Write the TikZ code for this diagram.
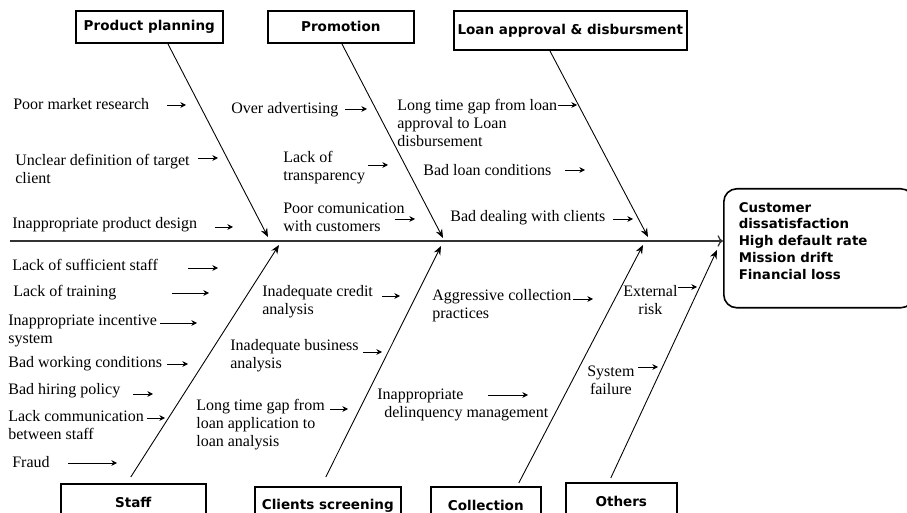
\documentclass[tikz,border=0pt]{standalone}
\usepackage{fontspec}
\setmainfont{Liberation Serif}
\newfontfamily\boxfont{DejaVu Sans}
\usepackage{tikz}
\usetikzlibrary{arrows.meta, calc}

\begin{document}
\begin{tikzpicture}[
  x=0.02cm, y=-0.02cm,
  every node/.style={inner sep=0pt},
  cause/.style={font=\fontsize{9.1}{10.2}\selectfont, align=left, anchor=west},
  catbox/.style={draw=black, line width=0.9pt, font=\boxfont\bfseries\fontsize{7.7}{9.6}\selectfont, anchor=north west, align=center},
  effect/.style={draw=black, line width=0.9pt, rounded corners=0.26cm, font=\boxfont\bfseries\fontsize{7.6}{9.6}\selectfont, anchor=north west, align=left, text width=3.2cm, inner xsep=0.3cm, minimum height=2.38cm},
  bone/.style={-{Stealth[length=5pt, width=4pt]}, line width=0.5pt},
  causearrow/.style={-{Stealth[length=3.2pt, width=3.2pt]}, line width=0.5pt},
  spine/.style={->, line width=0.7pt, black!80}
]
\clip (0,0) rectangle (907,513);

% Effect and spine
\node[effect] (eff) at (723,188) {Customer\\ dissatisfaction\\ High default rate\\ Mission drift\\ Financial loss\\[-4pt] \strut};
\coordinate (tail) at (10,241);
\draw[spine] (tail) -- (tail -| eff.west);

% Category boxes
\node[catbox, minimum width=2.94cm, minimum height=0.64cm] (plan) at (75,10) {Product planning};
\node[catbox, minimum width=2.92cm, minimum height=0.64cm] (promo) at (267,10) {Promotion};
\node[catbox, minimum width=4.66cm, minimum height=0.78cm] (loan) at (453,10) {Loan approval \& disbursment};
\node[catbox, minimum width=2.9cm, minimum height=0.76cm] (staff) at (60,483) {Staff};
\node[catbox, minimum width=2.92cm, minimum height=0.76cm] (screen) at (254,486) {Clients screening};
\node[catbox, minimum width=2.2cm, minimum height=0.76cm] (collect) at (430,486) {Collection};
\node[catbox, minimum width=2.22cm, minimum height=0.76cm] (other) at (565,482) {Others};

% Bones
\coordinate (tipPlan) at (268,237);
\coordinate (tipPromo) at (443,238);
\coordinate (tipLoan) at (648,237);
\coordinate (tipStaff) at (279,245);
\coordinate (tipScreen) at (441,246);
\coordinate (tipCollect) at (643,245);
\coordinate (tipOther) at (717,250);
\draw[bone] ($(plan.south)+(18.5,0)$) -- (tipPlan);
\draw[bone] ($(promo.south)+(1,0)$) -- (tipPromo);
\draw[bone] ($(loan.south)+(-20.5,0)$) -- (tipLoan);
\draw[bone] ($(staff.north)+(-2.5,-6)$) -- (tipStaff);
\draw[bone] ($(screen.north)+(-2,-9)$) -- (tipScreen);
\draw[bone] ($(collect.north)+(33,-3)$) -- (tipCollect);
\draw[bone] ($(other.north)+(-10.5,-4)$) -- (tipOther);

% Product planning causes
\node[cause] (pmr) at (13,104) {Poor market research};
\node[cause] (udt) at (15,169) {Unclear definition of target\\client};
\node[cause] (ipd) at (12,225) {Inappropriate product design};
\draw[causearrow] (pmr.west) ++(154,1) -- ++(19,0);
\draw[causearrow] (udt.west) ++(183,-11) -- ++(20,0);
\draw[causearrow] (ipd.west) ++(203,2) -- ++(18,0);

% Promotion causes
\node[cause] (oad) at (231,110) {Over advertising};
\node[cause] (lot) at (283,168) {Lack of\\transparency};
\node[cause] (pcc) at (283,217) {Poor comunication\\with customers};
\draw[causearrow] (oad.west) ++(114,-1) -- ++(22,0);
\draw[causearrow] (lot.west) ++(85,-3) -- ++(20,0);
\draw[causearrow] (pcc.west) ++(112,2) -- ++(20,0);

% Loan approval causes
\node[cause] (ltg) at (397,123) {Long time gap from loan\\approval to Loan\\disbursement};
\node[cause] (blc) at (423,170) {Bad loan conditions};
\node[cause] (bdc) at (450,218) {Bad dealing with clients};
\draw[causearrow] (ltg.west) ++(161,-18) -- ++(19,0);
\draw[causearrow] (blc.west) ++(142,0) -- ++(20,0);
\draw[causearrow] (bdc.west) ++(163,1) -- ++(20,0);

% Staff causes
\node[cause] (lss) at (12,265) {Lack of sufficient staff};
\node[cause] (ltr) at (13,293) {Lack of training};
\node[cause] (iis) at (8,331) {Inappropriate incentive\\system};
\node[cause] (bwc) at (8,364) {Bad working conditions};
\node[cause] (bhp) at (8,391) {Bad hiring policy};
\node[cause] (lcs) at (8,425) {Lack communication\\between staff};
\node[cause] (fraud) at (12,462) {Fraud};
\draw[causearrow] (lss.west) ++(176,3) -- ++(30,0);
\draw[causearrow] (ltr.west) ++(159,0) -- ++(37,0);
\draw[causearrow] (iis.west) ++(152,-8) -- ++(37,0);
\draw[causearrow] (bwc.west) ++(159,0) -- ++(21,0);
\draw[causearrow] (bhp.west) ++(125,3) -- ++(20,0);
\draw[causearrow] (lcs.west) ++(139,-7) -- ++(18,0);
\draw[causearrow] (fraud.west) ++(56,1) -- ++(49,0);

% Clients screening causes
\node[cause] (ica) at (262,302) {Inadequate credit\\analysis};
\node[cause] (iba) at (230,356) {Inadequate business\\analysis};
\node[cause] (lga) at (196,425) {Long time gap from\\loan application to\\loan analysis};
\draw[causearrow] (ica.west) ++(120,-6) -- ++(18,0);
\draw[causearrow] (iba.west) ++(133,-4) -- ++(19,0);
\draw[causearrow] (lga.west) ++(134,-16) -- ++(18,0);

% Collection causes
\node[cause] (acp) at (432,306) {Aggressive collection\\practices};
\node[cause] (idm) at (377,405) {Inappropriate\\\hspace{4pt}delinquency management};
\draw[causearrow] (acp.west) ++(141,-7) -- ++(20,0);
\draw[causearrow] (idm.west) ++(111,-10) -- ++(40,0);

% Other causes
\node[cause, align=center] (ext) at (623,300) {External\\risk};
\node[cause, align=center] (sys) at (587,380) {System\\failure};
\draw[causearrow] (ext.west) ++(55,-13) -- ++(19,0);
\draw[causearrow] (sys.west) ++(51,-13) -- ++(20,0);

\end{tikzpicture}
\end{document}
